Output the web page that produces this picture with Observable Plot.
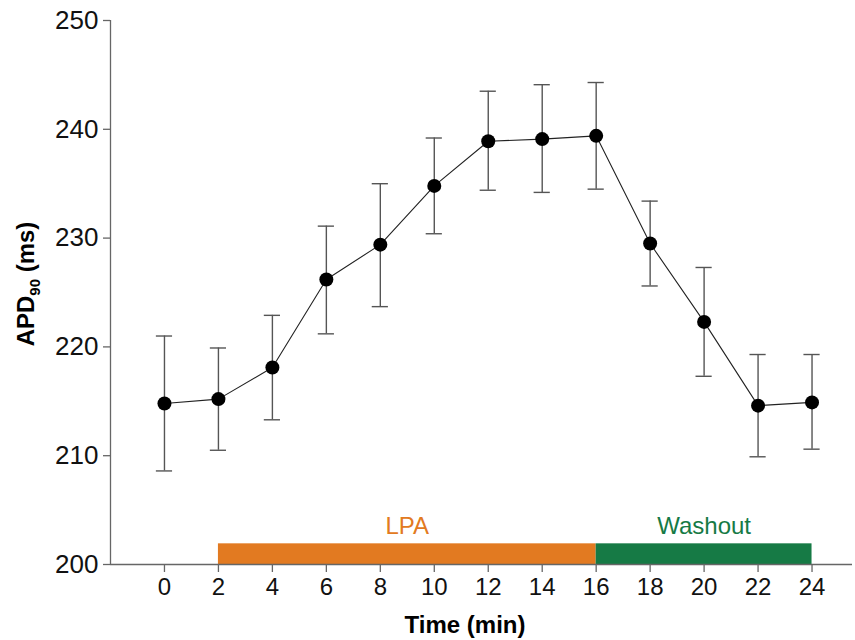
<!DOCTYPE html>
<html>
<head>
<meta charset="utf-8">
<script src="https://cdn.jsdelivr.net/npm/d3@7"></script>
<script src="https://cdn.jsdelivr.net/npm/@observablehq/plot@0.6"></script>
<style>
  body { margin: 0; background: #fff; }
  svg { font-family: "Liberation Sans", Arial, sans-serif; }
</style>
</head>
<body>
<div id="chart"></div>
<script>
const times = [0, 2, 4, 6, 8, 10, 12, 14, 16, 18, 20, 22, 24];
const apd   = [214.8, 215.2, 218.1, 226.2, 229.4, 234.8, 238.9, 239.1, 239.4, 229.5, 222.3, 214.6, 214.9];
const errHi = [221.0, 219.9, 222.9, 231.1, 235.0, 239.2, 243.5, 244.1, 244.3, 233.4, 227.3, 219.3, 219.3];
const errLo = [208.6, 210.5, 213.3, 221.2, 223.7, 230.4, 234.4, 234.2, 234.5, 225.6, 217.3, 209.9, 210.6];
const phaseNames = ["LPA", "Washout"];
const phaseStart = [2, 16];
const phaseEnd   = [16, 24];
const phaseColors = ["#E27A21", "#167A45"];
const xTicks = [0, 2, 4, 6, 8, 10, 12, 14, 16, 18, 20, 22, 24];
const yTicks = [200, 210, 220, 230, 240, 250];

const data = times.map((t, i) => ({t, v: apd[i], hi: errHi[i], lo: errLo[i]}));
const phases = phaseNames.map((n, i) => ({name: n, x1: phaseStart[i], x2: phaseEnd[i], c: phaseColors[i], mid: (phaseStart[i] + phaseEnd[i]) / 2}));

const capW = 0.3;
const plot = Plot.plot({
  width: 855,
  height: 640,
  marginLeft: 110,
  marginRight: 3,
  marginTop: 20,
  marginBottom: 76,
  style: {fontFamily: '"Liberation Sans", Arial, sans-serif', fontSize: "25px", color: "#000"},
  x: {domain: [-2, 25.5], ticks: xTicks, label: null},
  y: {domain: [200, 250], ticks: yTicks, label: null},
  marks: [
    Plot.rect(phases, {x1: "x1", x2: "x2", y1: 200, y2: 201.9, fill: "c"}),
    Plot.text(phases, {x: "mid", y: 203.5, text: "name", fill: "c", fontSize: 24, lineAnchor: "middle"}),
    Plot.ruleY([200], {stroke: "#666", strokeWidth: 1.3}),
    Plot.ruleX([-2], {stroke: "#666", strokeWidth: 1.3}),
    Plot.axisX({ticks: xTicks, tickSize: 8, tickPadding: 5, stroke: "#666", strokeWidth: 1.3, fontSize: 24, fill: "#111", label: null}),
    Plot.axisY({ticks: yTicks, tickSize: 7, tickPadding: 5, stroke: "#666", strokeWidth: 1.3, fontSize: 26, fill: "#111", label: null}),
    Plot.ruleX(data, {x: "t", y1: "lo", y2: "hi", stroke: "#555", strokeWidth: 1.4}),
    Plot.ruleY(data, {y: "hi", x1: d => d.t - capW, x2: d => d.t + capW, stroke: "#555", strokeWidth: 1.4}),
    Plot.ruleY(data, {y: "lo", x1: d => d.t - capW, x2: d => d.t + capW, stroke: "#555", strokeWidth: 1.4}),
    Plot.line(data, {x: "t", y: "v", stroke: "#222", strokeWidth: 1.1}),
    Plot.dot(data, {x: "t", y: "v", r: 7, fill: "#000"})
  ]
});

const svg = d3.select(plot);
svg.append("text")
  .attr("x", 465).attr("y", 633)
  .attr("text-anchor", "middle")
  .attr("font-weight", "bold").attr("font-size", 24).attr("fill", "#000")
  .text("Time (min)");
const yl = svg.append("text")
  .attr("transform", "translate(34,284) rotate(-90)")
  .attr("text-anchor", "middle")
  .attr("font-weight", "bold").attr("font-size", 24).attr("fill", "#000");
yl.append("tspan").text("APD");
yl.append("tspan").attr("font-size", 15).attr("dy", 6).text("90");
yl.append("tspan").attr("dy", -6).text(" (ms)");

document.getElementById("chart").appendChild(plot);
</script>
</body>
</html>
